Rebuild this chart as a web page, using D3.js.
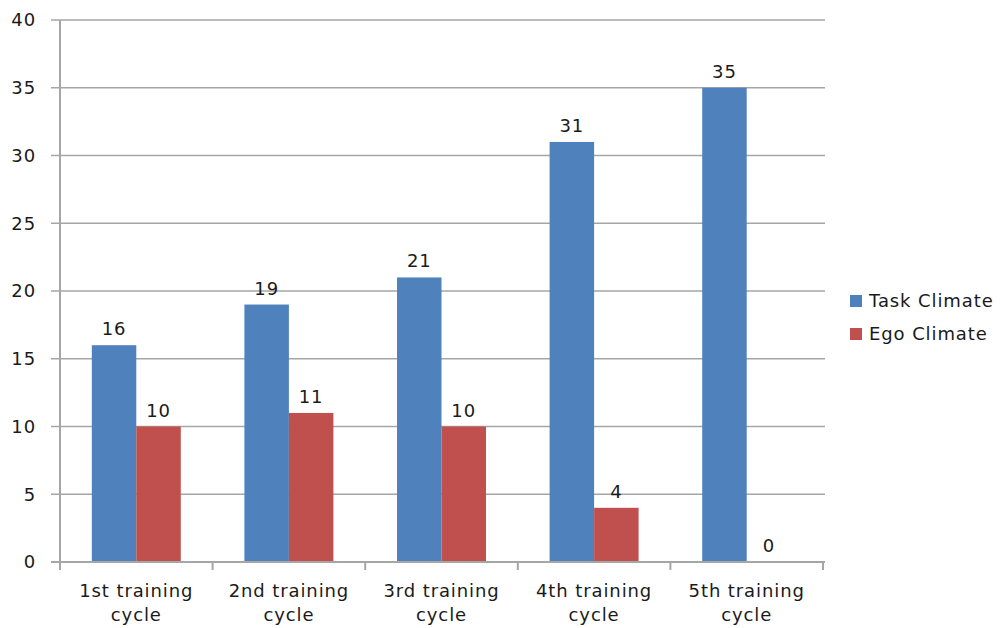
<!DOCTYPE html>
<html><head><meta charset="utf-8">
<script src="https://cdn.jsdelivr.net/npm/d3@7"></script>
<style>body{margin:0;background:#fff}svg{display:block}text{font-family:"DejaVu Sans",sans-serif;letter-spacing:0.9px}</style>
</head><body>
<script>
const categories = [["1st training","cycle"],["2nd training","cycle"],["3rd training","cycle"],["4th training","cycle"],["5th training","cycle"]];
const seriesNames = ["Task Climate","Ego Climate"];
const taskValues = [16,19,21,31,35];
const egoValues = [10,11,10,4,0];
const yTicks = [0,5,10,15,20,25,30,35,40];
const colors = ["#4F81BD","#C0504D"];

const W=1006,H=628,FS=18;
const svg=d3.select("body").append("svg").attr("width",W).attr("height",H);
const mLeft=60,mRight=823,mTop=20,mBottom=562;
const x0=d3.scaleBand().domain(d3.range(categories.length)).range([mLeft,mRight]).padding(0);
const x1=d3.scaleBand().domain([0,1]).range([0,x0.bandwidth()]).paddingInner(0).paddingOuter(0.715);
const y=d3.scaleLinear().domain([0,40]).range([mBottom,mTop]);

// gridlines
svg.append("g").selectAll("line").data(yTicks).join("line")
  .attr("x1",51).attr("x2",mRight+2).attr("y1",d=>y(d)).attr("y2",d=>y(d))
  .attr("stroke","#A6A6A6").attr("stroke-width",1.5);
// y labels
svg.append("g").selectAll("text").data(yTicks).join("text")
  .attr("x",36).attr("y",d=>y(d)).attr("dy","0.35em").attr("text-anchor","end")
  .attr("font-size",FS).attr("fill","#1a1a1a").text(d=>d);

const data=categories.map((c,i)=>[taskValues[i],egoValues[i]]);
const g=svg.append("g").selectAll("g").data(data).join("g").attr("transform",(d,i)=>`translate(${x0(i)},0)`);
g.selectAll("rect").data(d=>d).join("rect")
  .attr("x",(d,j)=>x1(j)).attr("width",x1.bandwidth())
  .attr("y",d=>y(d)).attr("height",d=>mBottom-y(d)).attr("fill",(d,j)=>colors[j]);
g.selectAll("text").data(d=>d).join("text")
  .attr("x",(d,j)=>x1(j)+x1.bandwidth()/2).attr("y",d=>y(d)-10)
  .attr("text-anchor","middle").attr("font-size",FS).attr("fill","#1a1a1a").text(d=>d);

// axes lines
svg.append("line").attr("x1",mLeft).attr("x2",mLeft).attr("y1",mTop).attr("y2",mBottom+8).attr("stroke","#A6A6A6").attr("stroke-width",2);
svg.append("line").attr("x1",51).attr("x2",mRight+2).attr("y1",mBottom).attr("y2",mBottom).attr("stroke","#A6A6A6").attr("stroke-width",2);
const bounds=d3.range(categories.length+1).map(i=>mLeft+i*x0.bandwidth());
svg.append("g").selectAll("line").data(bounds).join("line")
  .attr("x1",d=>d).attr("x2",d=>d).attr("y1",mBottom).attr("y2",mBottom+8).attr("stroke","#A6A6A6").attr("stroke-width",2);

// x labels
const xl=svg.append("g").selectAll("text").data(categories).join("text")
  .attr("x",(d,i)=>x0(i)+x0.bandwidth()/2).attr("y",597)
  .attr("text-anchor","middle").attr("font-size",FS).attr("fill","#1a1a1a");
xl.selectAll("tspan").data(d=>d).join("tspan")
  .attr("x",function(){return this.parentNode.getAttribute("x");})
  .attr("dy",(d,k)=>k?24:0).text(d=>d);

// legend
const lg=svg.append("g").selectAll("g").data(seriesNames).join("g")
  .attr("transform",(d,i)=>`translate(850,${301+i*33})`);
lg.append("rect").attr("x",0).attr("y",-6).attr("width",12).attr("height",12).attr("fill",(d,i)=>colors[i]);
lg.append("text").attr("x",19).attr("dy","0.35em").attr("font-size",FS).attr("fill","#1a1a1a").text(d=>d);
</script>
</body></html>
